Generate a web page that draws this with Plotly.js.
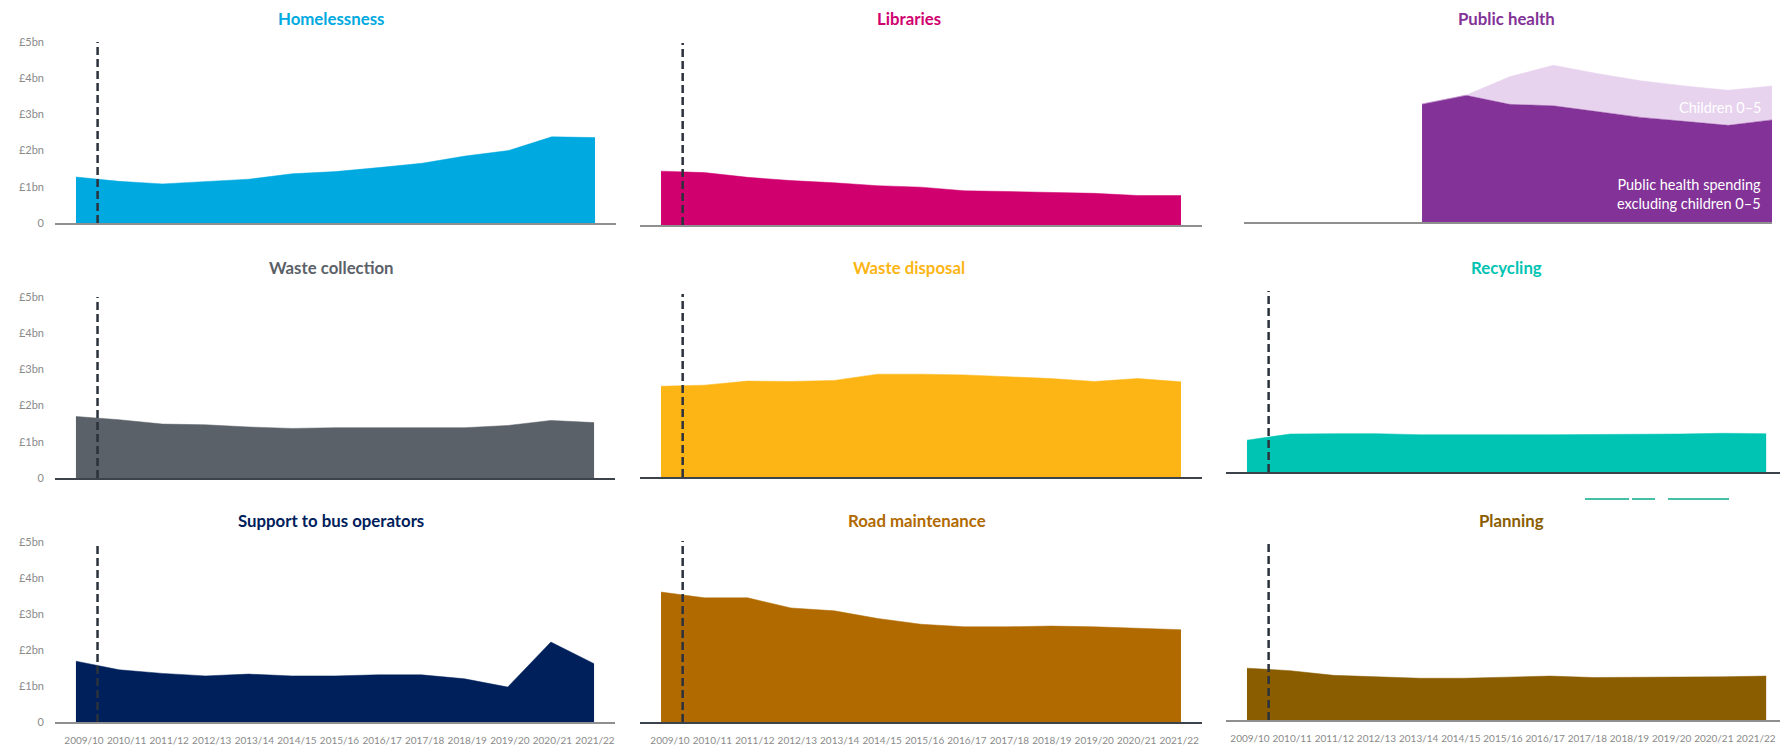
<!DOCTYPE html>
<html>
<head>
<meta charset="utf-8">
<script src="https://cdn.plot.ly/plotly-3.0.1.min.js"></script>
<style>html,body{margin:0;padding:0;background:#fff;}#chart{width:1780px;height:750px;}</style>
</head>
<body>
<div id="chart"></div>
<script>
// ---------- data ----------
const years = ['2009/10','2010/11','2011/12','2012/13','2013/14','2014/15','2015/16','2016/17','2017/18','2018/19','2019/20','2020/21','2021/22'];
const yTickVals = [0,1,2,3,4,5];
const yTickText = ['0','£1bn','£2bn','£3bn','£4bn','£5bn'];

const homelessness     = [1.27,1.15,1.08,1.15,1.21,1.36,1.42,1.53,1.65,1.85,2.00,2.38,2.36];
const libraries        = [1.48,1.44,1.31,1.22,1.16,1.08,1.04,0.94,0.92,0.90,0.87,0.81,0.81];
const publicHealthExcl = [null,null,null,null,3.26,3.50,3.25,3.21,3.05,2.89,2.78,2.67,2.82];
const publicHealthKids = [null,null,null,null,0.00,0.00,0.76,1.12,1.05,1.01,0.98,0.97,0.94];
const wasteCollection  = [1.70,1.61,1.49,1.47,1.41,1.37,1.39,1.39,1.40,1.39,1.45,1.59,1.53];
const wasteDisposal    = [2.48,2.51,2.62,2.61,2.64,2.81,2.81,2.79,2.74,2.69,2.61,2.69,2.60];
const recycling        = [0.88,1.05,1.06,1.06,1.03,1.02,1.03,1.03,1.03,1.04,1.05,1.07,1.06];
const busSupport       = [1.69,1.45,1.35,1.28,1.33,1.28,1.28,1.31,1.31,1.20,0.97,2.22,1.62];
const roadMaintenance  = [3.59,3.43,3.43,3.15,3.07,2.86,2.70,2.63,2.63,2.65,2.63,2.59,2.55];
const planning         = [1.44,1.37,1.24,1.19,1.16,1.16,1.19,1.22,1.18,1.18,1.18,1.20,1.22];

const titles = ['Homelessness','Libraries','Public health','Waste collection','Waste disposal','Recycling','Support to bus operators','Road maintenance','Planning'];
const dashedAt = 0.5; // between 2009/10 and 2010/11

// ---------- layout geometry (px) ----------
const W = 1780, H = 750;
const px = v => v / W;
const py = v => 1 - v / H;

const panels = [
  {x:[55,616],   y:[42,223],  r:[-0.485,12.485], color:'#00A9E0', axis:'#8f8f8f', data:homelessness,    ylab:true,  lab:null,            dash:true,  tx:331, ty:19},
  {x:[640,1202], y:[43,225],  r:[-0.485,12.485], color:'#D0006F', axis:'#8f8f8f', data:libraries,       ylab:false, lab:null,            dash:true,  tx:909, ty:19},
  {x:[1244,1772],y:[41,222],  r:[-0.07,12.0],    color:'#833297', axis:'#8f8f8f', data:null,            ylab:false, lab:null,            dash:false, tx:1506, ty:19},
  {x:[55,615],   y:[297,478], r:[-0.485,12.485], color:'#5B6168', axis:'#3d434b', data:wasteCollection, ylab:true,  lab:null,            dash:true,  tx:331, ty:268},
  {x:[640,1202], y:[294,477], r:[-0.485,12.485], color:'#FDB515', axis:'#3d434b', data:wasteDisposal,   ylab:false, lab:null,            dash:true,  tx:909, ty:268},
  {x:[1226,1780],y:[291,472], r:[-0.485,12.32],  color:'#00C4B3', axis:'#3d434b', data:recycling,       ylab:false, lab:null,            dash:true,  tx:1506, ty:268},
  {x:[55,615],   y:[542,722], r:[-0.485,12.485], color:'#00205B', axis:'#8f8f8f', data:busSupport,      ylab:true,  lab:[-0.681,12.47],  dash:true,  tx:331, ty:520},
  {x:[640,1202], y:[541,722], r:[-0.485,12.485], color:'#B06A00', axis:'#3d434b', data:roadMaintenance, ylab:false, lab:[-0.707,12.54],  dash:true,  tx:917, ty:520},
  {x:[1226,1780],y:[540,720], r:[-0.485,12.32],  color:'#8A5D00', axis:'#8f8f8f', data:planning,        ylab:false, lab:[-0.569,12.57],  dash:true,  tx:1511, ty:520}
];

const FONT = 'Lato, "Noto Sans", sans-serif';
const traces = [];
const layout = {
  width: W, height: H,
  margin: {l:0, r:0, t:0, b:0},
  paper_bgcolor: '#ffffff', plot_bgcolor: 'rgba(0,0,0,0)',
  showlegend: false,
  font: {family: FONT, color: '#8a8a8a', size: 11},
  shapes: [], annotations: []
};

let extra = 10;
panels.forEach((p, i) => {
  const n = i + 1;
  const xa = 'x' + (n === 1 ? '' : n), ya = 'y' + (n === 1 ? '' : n);
  const xk = 'xaxis' + (n === 1 ? '' : n), yk = 'yaxis' + (n === 1 ? '' : n);

  layout[xk] = {
    domain: [px(p.x[0]), px(p.x[1])], anchor: ya, type: 'category',
    categoryorder: 'array', categoryarray: years,
    range: p.r, fixedrange: true,
    showgrid: false, zeroline: false,
    showline: true, linecolor: p.axis, linewidth: 2,
    ticks: '', showticklabels: false
  };
  layout[yk] = {
    domain: [py(p.y[1]), py(p.y[0])], anchor: xa,
    range: [0, 5], fixedrange: true,
    showgrid: false, zeroline: false, showline: false,
    ticks: '', tickmode: 'array', tickvals: yTickVals, ticktext: yTickText,
    showticklabels: p.ylab, ticklabelstandoff: 10,
    tickfont: {family: FONT, size: 11, color: '#8a8a8a'}
  };

  // year labels on the bottom row: an overlay axis carrying the tick labels
  if (p.lab) {
    const m = extra++;
    layout['xaxis' + m] = {
      domain: [px(p.x[0]), px(p.x[1])], anchor: ya, overlaying: xa,
      type: 'linear', range: p.lab, fixedrange: true,
      showgrid: false, zeroline: false, showline: false, ticks: '',
      tickmode: 'array', tickvals: years.map((_, k) => k), ticktext: years,
      showticklabels: true, tickangle: 0, ticklabelstandoff: 11,
      tickfont: {family: FONT, size: 10, color: '#8a8a8a'}
    };
    traces.push({type: 'scatter', mode: 'lines', x: [], y: [], xaxis: 'x' + m, yaxis: ya, hoverinfo: 'skip'});
  }

  if (p.data) {
    traces.push({
      type: 'scatter', mode: 'lines', x: years, y: p.data,
      xaxis: xa, yaxis: ya, fill: 'tozeroy', fillcolor: p.color,
      line: {width: 0.5, color: p.color}, hoverinfo: 'skip'
    });
  } else {
    // public health: spending excluding children 0-5, with children 0-5 stacked on top
    const idx = years.map((_, k) => k).filter(k => publicHealthExcl[k] !== null);
    const xs = idx.map(k => years[k]);
    const excl = idx.map(k => publicHealthExcl[k]);
    const total = idx.map(k => publicHealthExcl[k] + publicHealthKids[k]);
    traces.push({
      type: 'scatter', mode: 'lines', x: xs, y: excl, xaxis: xa, yaxis: ya,
      fill: 'tozeroy', fillcolor: '#833297', line: {width: 0.5, color: '#833297'}, hoverinfo: 'skip'
    });
    traces.push({
      type: 'scatter', mode: 'lines', x: xs, y: total, xaxis: xa, yaxis: ya,
      fill: 'tonexty', fillcolor: '#E8D3EE', line: {width: 0.5, color: '#E8D3EE'}, hoverinfo: 'skip'
    });
  }

  if (p.dash) {
    layout.shapes.push({
      type: 'line', xref: xa, yref: ya, x0: dashedAt, x1: dashedAt, y0: 0, y1: 5,
      line: {color: '#2b323c', width: 2.5, dash: '8px,4px'}, layer: 'above'
    });
  }

  layout.annotations.push({
    xref: 'paper', yref: 'paper', x: px(p.tx), y: py(p.ty),
    xanchor: 'center', yanchor: 'middle', showarrow: false,
    text: '<b>' + titles[i] + '</b>',
    font: {family: FONT, size: 16.8, color: p.color}
  });
});

// Public health labels
layout.annotations.push({
  xref: 'paper', yref: 'paper', x: px(1763), y: py(107), xanchor: 'right', yanchor: 'middle',
  showarrow: false, align: 'right', text: 'Children 0–5',
  font: {family: FONT, size: 14.5, color: '#ffffff'}
});
layout.annotations.push({
  xref: 'paper', yref: 'paper', x: px(1763), y: py(194), xanchor: 'right', yanchor: 'middle',
  showarrow: false, align: 'right', text: 'Public health spending<br>excluding children 0–5',
  font: {family: FONT, size: 14.5, color: '#ffffff'}
});

// small teal stray rule seen under the recycling panel
[[1585,1629],[1632,1655],[1668,1729]].forEach(s => {
  layout.shapes.push({type:'line', xref:'paper', yref:'paper', x0:px(s[0]), x1:px(s[1]), y0:py(499), y1:py(499),
    line:{color:'#45bfa5', width:2}});
});

Plotly.newPlot('chart', traces, layout, {displayModeBar: false, staticPlot: true});
</script>
</body>
</html>
